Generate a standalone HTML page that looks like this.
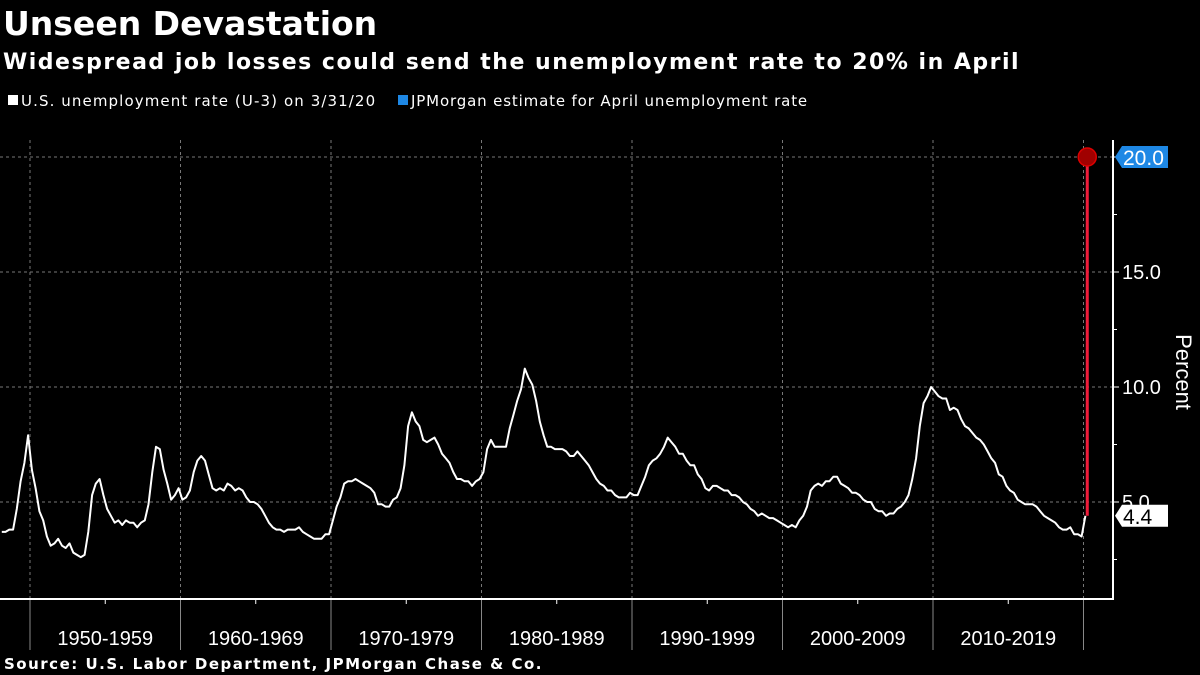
<!DOCTYPE html>
<html><head><meta charset="utf-8"><style>
body{margin:0;background:#000;width:1200px;height:675px;overflow:hidden;font-family:"Liberation Sans",sans-serif;color:#fff}
svg{position:absolute;left:0;top:0}
.dv{font-family:"DejaVu Sans","Liberation Sans",sans-serif}
</style></head><body>
<svg width="1200" height="675">
<text class="dv" x="3" y="35" font-size="33" font-weight="bold" fill="#fff">Unseen Devastation</text>
<text class="dv" x="3" y="69" font-size="22" font-weight="bold" fill="#fff" letter-spacing="1.5">Widespread job losses could send the unemployment rate to 20% in April</text>
<g>
<rect x="8" y="95" width="10" height="10" fill="#fff"/>
<text class="dv" x="21" y="106" font-size="15" fill="#fff" letter-spacing="1.1">U.S. unemployment rate (U-3) on 3/31/20</text>
<rect x="398" y="95" width="10" height="10" fill="#1e88e5"/>
<text class="dv" x="411" y="106" font-size="15" fill="#fff" letter-spacing="0.85">JPMorgan estimate for April unemployment rate</text>
</g>
<g id="grid"></g>
<g id="axes"></g>
<g id="series"></g>
<text transform="translate(1176,372) rotate(90)" font-size="22" fill="#fff" text-anchor="middle">Percent</text>
<text class="dv" x="4" y="669" font-size="15" font-weight="bold" fill="#fff" letter-spacing="1.5">Source: U.S. Labor Department, JPMorgan Chase &amp; Co.</text>
</svg>
<script>
const startYear = 1948;
const quarterlyRates = [
3.7,3.7,3.8,3.8, 4.7,5.9,6.7,7.9, 6.4,5.6,4.6,4.2, 3.5,3.1,3.2,3.4, 3.1,3.0,3.2,2.8,
2.7,2.6,2.7,3.7, 5.3,5.8,6.0,5.3, 4.7,4.4,4.1,4.2, 4.0,4.2,4.1,4.1, 3.9,4.1,4.2,4.9,
6.3,7.4,7.3,6.4, 5.8,5.1,5.3,5.6, 5.1,5.2,5.5,6.3, 6.8,7.0,6.8,6.2, 5.6,5.5,5.6,5.5,
5.8,5.7,5.5,5.6, 5.5,5.2,5.0,5.0, 4.9,4.7,4.4,4.1, 3.9,3.8,3.8,3.7, 3.8,3.8,3.8,3.9,
3.7,3.6,3.5,3.4, 3.4,3.4,3.6,3.6, 4.2,4.8,5.2,5.8, 5.9,5.9,6.0,5.9, 5.8,5.7,5.6,5.4,
4.9,4.9,4.8,4.8, 5.1,5.2,5.6,6.6, 8.3,8.9,8.5,8.3, 7.7,7.6,7.7,7.8, 7.5,7.1,6.9,6.7,
6.3,6.0,6.0,5.9, 5.9,5.7,5.9,6.0, 6.3,7.3,7.7,7.4, 7.4,7.4,7.4,8.2, 8.8,9.4,9.9,10.8,
10.4,10.1,9.4,8.5, 7.9,7.4,7.4,7.3, 7.3,7.3,7.2,7.0, 7.0,7.2,7.0,6.8, 6.6,6.3,6.0,5.8,
5.7,5.5,5.5,5.3, 5.2,5.2,5.2,5.4, 5.3,5.3,5.7,6.1, 6.6,6.8,6.9,7.1, 7.4,7.8,7.6,7.4,
7.1,7.1,6.8,6.6, 6.6,6.2,6.0,5.6, 5.5,5.7,5.7,5.6, 5.5,5.5,5.3,5.3, 5.2,5.0,4.9,4.7,
4.6,4.4,4.5,4.4, 4.3,4.3,4.2,4.1, 4.0,3.9,4.0,3.9, 4.2,4.4,4.8,5.5, 5.7,5.8,5.7,5.9,
5.9,6.1,6.1,5.8, 5.7,5.6,5.4,5.4, 5.3,5.1,5.0,5.0, 4.7,4.6,4.6,4.4, 4.5,4.5,4.7,4.8,
5.0,5.3,6.0,6.9, 8.3,9.3,9.6,10.0, 9.8,9.6,9.5,9.5, 9.0,9.1,9.0,8.6, 8.3,8.2,8.0,7.8,
7.7,7.5,7.2,6.9, 6.7,6.2,6.1,5.7, 5.5,5.4,5.1,5.0, 4.9,4.9,4.9,4.8, 4.6,4.4,4.3,4.2,
4.1,3.9,3.8,3.8, 3.9,3.6,3.6,3.5, 4.4];
const estimateValue = [20.0];
const lastValue = [4.4];
const yTicks = [5, 10, 15, 20];
const decadeLabels = ["1950-1959","1960-1969","1970-1979","1980-1989","1990-1999","2000-2009","2010-2019"];
const decadeStarts = [1950,1960,1970,1980,1990,2000,2010,2020];

const NS = "http://www.w3.org/2000/svg";
const xs = yr => 30 + (yr - 1950) * 15.05;
const ys = v => 617 - v * 23;
function mk(tag, attrs, parent){const e=document.createElementNS(NS,tag);for(const k in attrs)e.setAttribute(k,attrs[k]);parent.appendChild(e);return e;}
const grid=document.getElementById('grid'), axes=document.getElementById('axes'), series=document.getElementById('series');

yTicks.forEach(t=>{
  const g=mk('line',{x1:0,x2:1113,y1:ys(t),y2:ys(t),stroke:'#777','stroke-dasharray':'3,3','stroke-width':1},grid);
  
  
  const tk=mk('line',{x1:1113,x2:1119,y1:ys(t),y2:ys(t),stroke:'#fff'},axes);
  
  
  const lb=mk('text',{x:1122,y:ys(t)+7,'font-size':20,fill:'#fff'},axes);
  lb.textContent=t.toFixed(1);
  
  
});
for(let v=2.5;v<20;v+=5){const m=mk('line',{x1:1113,x2:1117,y1:ys(v),y2:ys(v),stroke:'#fff'},axes);
  
  }
decadeStarts.forEach(d=>{
  const g=mk('line',{x1:xs(d),x2:xs(d),y1:140,y2:599,stroke:'#777','stroke-dasharray':'3,3'},grid);
  
  
  const s=mk('line',{x1:xs(d),x2:xs(d),y1:599,y2:650,stroke:'#888'},axes);
  
  
  if(d<2020){const m=mk('line',{x1:xs(d+5),x2:xs(d+5),y1:599,y2:604,stroke:'#fff'},axes);
    
    }
});
decadeLabels.forEach((l,i)=>{
  const t=mk('text',{x:(xs(decadeStarts[i])+xs(decadeStarts[i+1]))/2,y:645,'font-size':20,fill:'#fff','text-anchor':'middle'},axes);
  t.textContent=l;
  
  
});
const ax=mk('path',{d:'M1113,140 V599 H0',fill:'none',stroke:'#fff','stroke-width':2},axes);



const pts=quarterlyRates.map((v,i)=>xs(startYear+i*0.25+0.125).toFixed(1)+','+ys(v).toFixed(1)).join(' ');
const line=mk('polyline',{points:pts,fill:'none',stroke:'#fff','stroke-width':2,'stroke-linejoin':'round'},series);



const ex=xs(2020.25);
const rl=mk('line',{x1:ex,x2:ex,y1:ys(lastValue[0]),y2:ys(estimateValue[0]),stroke:'#ee1c3a','stroke-width':3},series);


const c=mk('circle',{cx:ex,cy:ys(estimateValue[0]),r:9,fill:'#a00000',stroke:'#d00','stroke-width':1.5},series);



function badge(v,fill,txt,name){
  const y=ys(v);
  const p=mk('path',{d:`M1115,${y} L1122,${y-11} H1168 V${y+11} H1122 Z`,fill:fill},axes);
  
  
  const t=mk('text',{x:1123,y:y+8,'font-size':21,fill:txt},axes);
  t.textContent=v.toFixed(1);
  
  
}
badge(estimateValue[0],'#1e88e5','#fff','estimate-value');
badge(lastValue[0],'#fff','#000','last-value');
</script>
</body></html>
